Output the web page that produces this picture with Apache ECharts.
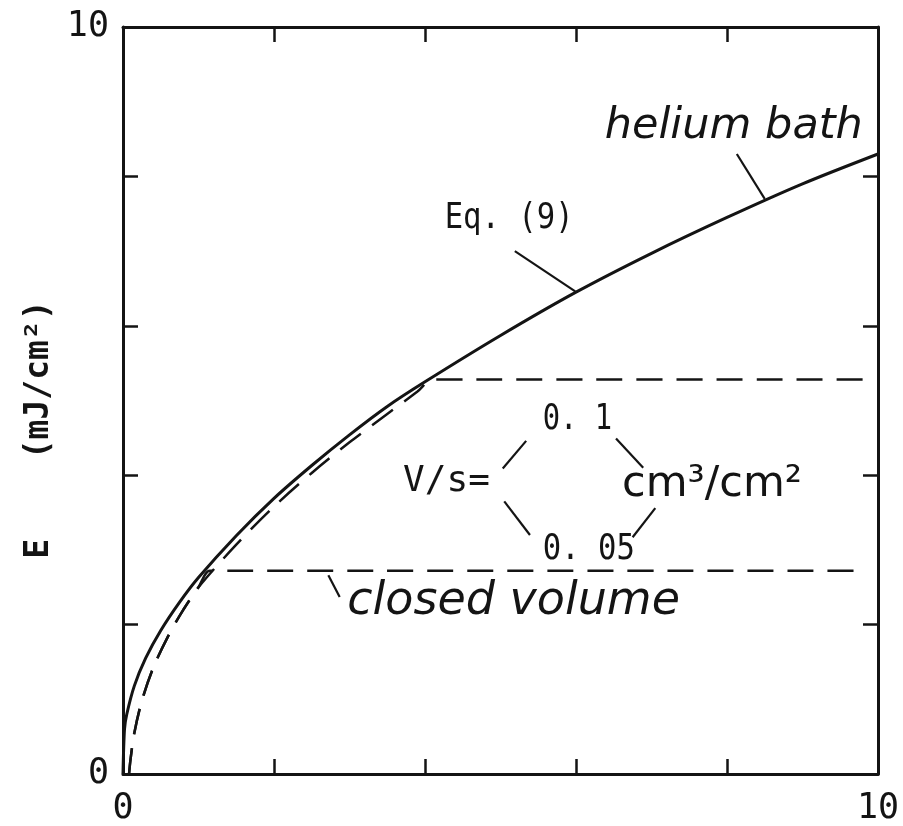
<!DOCTYPE html>
<html>
<head>
<meta charset="utf-8">
<script src="https://cdn.jsdelivr.net/npm/echarts@6/dist/echarts.min.js"></script>
<style>
  html, body { margin: 0; padding: 0; background: #fff; }
  #chart { width: 903px; height: 826px; }
</style>
</head>
<body>
<div id="chart"></div>
<script>
// ---- data ----
const heliumX = [0, 0.02, 0.05, 0.15, 0.3, 0.5, 0.75, 1.0, 1.5, 2.0, 2.5, 3.0, 3.5, 4.0, 5.0, 6.0, 7.0, 8.0, 9.0, 10];
const heliumY = [0, 0.6, 0.8, 1.18, 1.55, 1.92, 2.30, 2.63, 3.19, 3.69, 4.13, 4.54, 4.92, 5.25, 5.87, 6.45, 6.97, 7.45, 7.90, 8.30];

const vol01X = [0.08, 0.1, 0.15, 0.25, 0.4, 0.6, 0.8, 1.0, 1.5, 2.0, 2.5, 3.0, 3.5, 3.9, 4.1, 4.6, 9.85];
const vol01Y = [0, 0.2, 0.55, 0.98, 1.42, 1.85, 2.2, 2.5, 3.07, 3.58, 4.03, 4.44, 4.82, 5.12, 5.28, 5.28, 5.28];

const vol005X = [0.08, 0.1, 0.15, 0.25, 0.4, 0.6, 0.8, 1.0, 1.15, 1.6, 9.85];
const vol005Y = [0, 0.2, 0.55, 0.98, 1.42, 1.85, 2.2, 2.5, 2.72, 2.72, 2.72];

const xTickLabels = [0, 10];
const yTickLabels = [0, 10];

const zip = (xs, ys) => xs.map((x, i) => [x, ys[i]]);

const INK = '#141414';
const MONO = '"DejaVu Sans Mono", "Liberation Mono", monospace';

function axisCommon(showLabels, labels) {
  return {
    type: 'value', min: 0, max: 10, interval: 2,
    axisLine: { show: true, onZero: false, lineStyle: { color: INK, width: 3 } },
    axisTick: { show: true, inside: true, length: 15, lineStyle: { color: INK, width: 2.5 } },
    splitLine: { show: false },
    axisLabel: showLabels ? {
      show: true, color: INK, fontFamily: MONO, fontSize: 35,
      formatter: v => labels.indexOf(v) >= 0 ? String(v) : ''
    } : { show: false }
  };
}

const chart = echarts.init(document.getElementById('chart'), null, { renderer: 'canvas' });

const option = {
  backgroundColor: '#fff',
  animation: false,
  grid: { left: 123, right: 25, top: 27, bottom: 48, containLabel: false },
  xAxis: [
    Object.assign(axisCommon(true, xTickLabels), { position: 'bottom',
      axisLabel: Object.assign(axisCommon(true, xTickLabels).axisLabel, { margin: 17 }) }),
    Object.assign(axisCommon(false), { position: 'top' })
  ],
  yAxis: [
    Object.assign(axisCommon(true, yTickLabels), { position: 'left',
      axisLabel: Object.assign(axisCommon(true, yTickLabels).axisLabel, { margin: 14 }),
      name: 'E    (mJ/cm²)', nameLocation: 'middle', nameRotate: 90, nameGap: 66,
      nameTextStyle: { color: INK, fontFamily: MONO, fontSize: 33, fontWeight: 'bold', padding: [0, 58, 0, 0] } }),
    Object.assign(axisCommon(false), { position: 'right' })
  ],
  series: [
    { name: 'helium bath', type: 'line', data: zip(heliumX, heliumY), showSymbol: false, symbol: 'none',
      smooth: 0.3, lineStyle: { color: INK, width: 3 } },
    { name: 'V/s = 0.1', type: 'line', data: zip(vol01X, vol01Y), showSymbol: false, symbol: 'none',
      smooth: 0.3, lineStyle: { color: INK, width: 2.5, type: [26, 14] } },
    { name: 'V/s = 0.05', type: 'line', data: zip(vol005X, vol005Y), showSymbol: false, symbol: 'none',
      smooth: 0.3, lineStyle: { color: INK, width: 2.5, type: [26, 14] } }
  ]
};
chart.setOption(option);

// ---- annotations, placed in data coordinates ----
const texts = [
  { t: 'helium bath', at: [6.38, 8.67], font: 'italic 43px "DejaVu Sans", sans-serif', sx: 1 },
  { t: 'Eq. (9)', at: [4.26, 7.43], font: '36px ' + MONO, sx: 0.85 },
  { t: 'V/s=', at: [3.71, 3.91], font: '36px ' + MONO, sx: 1.0 },
  { t: '0. 1', at: [5.56, 4.75], font: '36px ' + MONO, sx: 0.8 },
  { t: '0. 05', at: [5.56, 3.00], font: '36px ' + MONO, sx: 0.85 },
  { t: 'cm³/cm²', at: [6.61, 3.87], font: '43px "DejaVu Sans", sans-serif', sx: 1 },
  { t: 'closed volume', at: [2.97, 2.30], font: 'italic 46px "DejaVu Sans", sans-serif', sx: 1 }
];
const leaders = [
  [[8.13, 8.30], [8.50, 7.70]],
  [[5.19, 7.00], [5.99, 6.46]],
  [[5.03, 4.09], [5.34, 4.46]],
  [[5.05, 3.65], [5.39, 3.20]],
  [[6.53, 4.49], [6.89, 4.10]],
  [[7.05, 3.56], [6.75, 3.17]],
  [[2.72, 2.66], [2.87, 2.37]]
];

function px(p) { return chart.convertToPixel({ xAxisIndex: 0, yAxisIndex: 0 }, p); }

const graphics = [];
texts.forEach(o => {
  const p = px(o.at);
  graphics.push({ type: 'text', x: p[0], y: p[1], scaleX: o.sx, silent: true,
    style: { text: o.t, font: o.font, fill: INK, textAlign: 'left', textVerticalAlign: 'middle', align: 'left', verticalAlign: 'middle' } });
});
leaders.forEach(l => {
  const a = px(l[0]), b = px(l[1]);
  graphics.push({ type: 'line', silent: true,
    shape: { x1: a[0], y1: a[1], x2: b[0], y2: b[1] },
    style: { stroke: INK, lineWidth: 2.2 } });
});
chart.setOption({ graphic: graphics });
</script>
</body>
</html>
